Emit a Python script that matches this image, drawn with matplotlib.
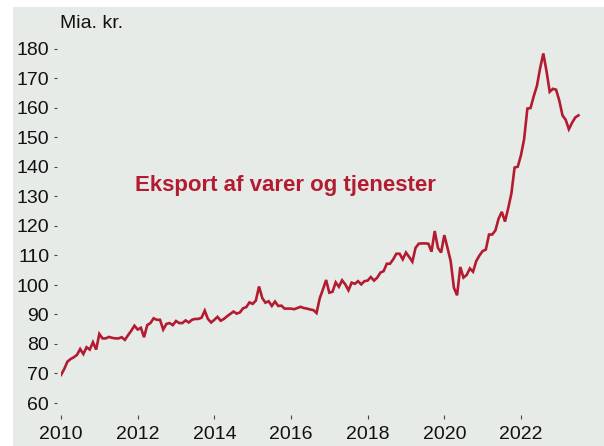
import matplotlib
matplotlib.use("Agg")
import matplotlib.pyplot as plt
from matplotlib.patches import Rectangle

plt.rcParams["font.family"] = ["Liberation Sans", "DejaVu Sans"]

# monthly export, bn. DKK, Jan 2010 - Jul 2023
y2010 = [69.5, 71.5, 74.0, 74.9, 75.5, 76.3, 78.3, 76.6, 78.9, 78.1, 80.6, 78.1]
y2011 = [83.4, 81.9, 81.9, 82.4, 82.1, 81.9, 81.9, 82.3, 81.4, 83.0, 84.5, 86.2]
y2012 = [84.9, 85.5, 82.3, 86.4, 87.1, 88.7, 88.2, 88.2, 84.9, 86.8, 87.1, 86.4]
y2013 = [87.8, 87.1, 87.1, 88.0, 87.3, 88.2, 88.5, 88.5, 88.9, 91.3, 88.5, 87.3]
y2014 = [88.2, 89.2, 87.9, 88.5, 89.4, 90.2, 91.0, 90.3, 90.7, 92.1, 92.5, 94.1]
y2015 = [93.6, 94.7, 99.5, 95.6, 94.0, 94.5, 92.9, 94.4, 92.9, 93.0, 92.0, 92.0]
y2016 = [92.0, 91.8, 92.2, 92.6, 92.2, 92.0, 91.7, 91.5, 90.5, 95.5, 98.5, 101.7]
y2017 = [97.4, 97.7, 100.9, 99.4, 101.6, 100.2, 98.2, 100.8, 100.4, 101.3, 100.2, 101.3]
y2018 = [101.5, 102.7, 101.5, 102.5, 104.2, 104.7, 107.2, 107.2, 108.7, 110.6, 110.6, 108.7]
y2019 = [111.0, 109.5, 107.9, 112.6, 114.0, 114.1, 114.1, 114.0, 111.3, 118.3, 112.6, 111.0]
y2020 = [116.9, 112.6, 108.1, 99.1, 96.5, 106.1, 102.5, 103.4, 105.6, 104.5, 108.1, 110.0]
y2021 = [111.5, 112.0, 117.1, 117.1, 118.5, 122.5, 124.8, 121.5, 126.0, 131.0, 139.8, 140.1]
y2022 = [144.0, 149.5, 159.8, 160.0, 164.0, 167.5, 173.5, 178.5, 172.5, 165.5, 166.5, 166.2]
y2023 = [162.5, 157.5, 156.0, 152.8, 155.0, 156.8, 157.5]

values = (y2010 + y2011 + y2012 + y2013 + y2014 + y2015 + y2016 + y2017
          + y2018 + y2019 + y2020 + y2021 + y2022 + y2023)
years = [2010 + i / 12 for i in range(len(values))]

yticks = list(range(60, 190, 10))
xticks = list(range(2010, 2024, 2))

BG = "#e7ebe8"
RED = "#b31b30"

W, H = 604, 446
fig = plt.figure(figsize=(W / 100, H / 100), dpi=100, facecolor="white")
fig.patches.append(Rectangle((13 / W, 0), 1, 1 - 7 / H, transform=fig.transFigure,
                             facecolor=BG, edgecolor="none", zorder=-10))

left, right = 61 / W, (61 + 14 * 38.33) / W
bottom, top = (H - 414.8) / H, (H - 37.2) / H
ax = fig.add_axes([left, bottom, right - left, top - bottom])
ax.set_facecolor("none")

ax.plot(years, values, color=RED, lw=1.9, solid_joinstyle="miter")

ax.set_xlim(2010, 2024)
ax.set_ylim(56, 184)
ax.set_xticks(xticks)
ax.set_yticks(yticks)
for s in ("top", "right", "bottom", "left"):
    ax.spines[s].set_visible(False)
ax.spines["left"].set_position(("outward", 3))
ax.tick_params(axis="y", length=2.5, width=0.8, color="#444", pad=3,
               labelsize=14, labelcolor="#111")
ax.tick_params(axis="x", length=3, width=0.8, color="#444", pad=5,
               labelsize=14, labelcolor="#111")

fig.text(60 / W, 1 - 24 / H, "Mia. kr.", fontsize=14, color="#111",
         ha="left", va="center")
ax.text(2011.93, 133.6, "Eksport af varer og tjenester", fontsize=16,
        fontweight="bold", color=RED, ha="left", va="center")

fig.savefig("out.png", dpi=100, facecolor="white")
